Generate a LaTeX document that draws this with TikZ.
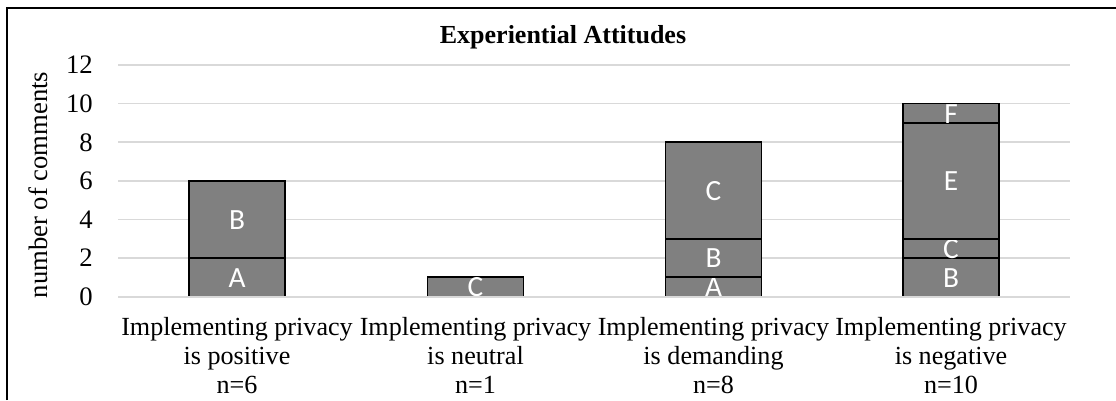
\documentclass[tikz,border=0pt]{standalone}
\usepackage{fontspec}
\setmainfont{Liberation Serif}
\newfontfamily\segfont{Carlito}
\definecolor{gridgray}{HTML}{D9D9D9}
\definecolor{barfill}{HTML}{808080}
\begin{document}
\begin{tikzpicture}[x=0.75pt,y=-0.75pt,
  gridline/.style={draw=gridgray,line width=1.2pt},
  seg/.style={fill=barfill,draw=black,line width=1.4pt},
  seglabel/.style={anchor=base,inner sep=0pt,text=white,font=\segfont\fontsize{22}{24}\selectfont},
  ticklabel/.style={anchor=base east,inner sep=0pt,font=\fontsize{20}{22}\selectfont},
  catlabel/.style={anchor=base,inner sep=0pt,font=\fontsize{19.6}{22}\selectfont}]
\useasboundingbox (0,0) rectangle (1116,400);
% chart frame (left and top edges visible)
\draw[line width=1.1pt] (7,400) -- (7,8) -- (1116,8);
% title
\node[anchor=base,inner sep=0pt,font=\bfseries\fontsize{19.5}{22}\selectfont] (title) at (563,43) {Experiential Attitudes};
% y axis title
\node[rotate=90,inner sep=0pt,font=\fontsize{20}{22}\selectfont] (ytitle) at (38,185) {number of comments};
% horizontal grid and tick labels
\foreach \v in {2,4,...,12}{
  \draw[gridline] (118,{296.5-19.3*\v}) -- (1070,{296.5-19.3*\v});
}
\foreach \v in {0,2,...,12}{
  \node[ticklabel] (tick\v) at (93,{296.5-19.3*\v+9}) {\v};
}
% stacked bars: \barseg{centre x}{from}{to}{label}{name}
\newcommand{\barseg}[5]{%
  \draw[seg] ({#1-48},{296.5-19.3*#2}) rectangle ({#1+48},{296.5-19.3*#3});
  \node[seglabel] (#5) at (#1,{296.5-19.3*(#2+#3)/2+10}) {#4};
}
% Implementing privacy is positive
\barseg{237}{0}{2}{A}{p1A}
\barseg{237}{2}{6}{B}{p1B}
% Implementing privacy is neutral
\barseg{475.5}{0}{1}{C}{p2C}
% Implementing privacy is demanding
\barseg{713.5}{0}{1}{A}{p3A}
\barseg{713.5}{1}{3}{B}{p3B}
\barseg{713.5}{3}{8}{C}{p3C}
% Implementing privacy is negative
\barseg{951}{0}{2}{B}{p4B}
\barseg{951}{2}{3}{C}{p4C}
\barseg{951}{3}{9}{E}{p4E}
\barseg{951}{9}{10}{F}{p4F}
% category axis line
\draw[gridline,line width=1.5pt] (118,296.5) -- (1070,296.5);
% category labels
\foreach \x/\w/\n [count=\i] in {237/positive/6,475.5/neutral/1,713.5/demanding/8,951/negative/10}{
  \node[catlabel] (cat\i a) at (\x,335) {Implementing privacy};
  \node[catlabel] (cat\i b) at (\x,364) {is \w};
  \node[catlabel] (cat\i c) at (\x,393) {n=\n};
}
\end{tikzpicture}
\end{document}
